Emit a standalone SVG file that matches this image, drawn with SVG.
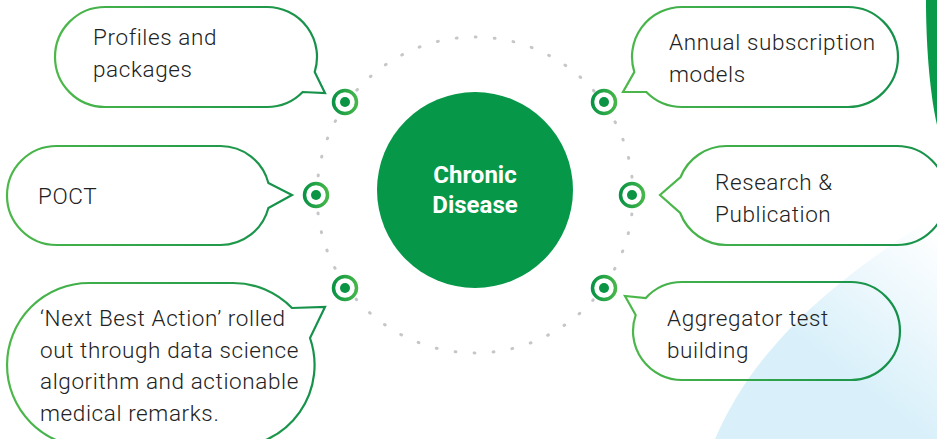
<svg xmlns="http://www.w3.org/2000/svg" width="937" height="439" viewBox="0 0 937 439">
<defs>
<linearGradient id="bs" x1="0" y1="0" x2="1" y2="0">
<stop offset="0" stop-color="#4db84a"/>
<stop offset="1" stop-color="#14904b"/>
</linearGradient>
<linearGradient id="ms" x1="0" y1="0" x2="1" y2="0">
<stop offset="0" stop-color="#0a9444"/>
<stop offset="1" stop-color="#45b649"/>
</linearGradient>
<linearGradient id="blue" gradientUnits="userSpaceOnUse" x1="915" y1="210" x2="810" y2="345">
<stop offset="0" stop-color="#ffffff"/>
<stop offset="1" stop-color="#d9f0fa"/>
</linearGradient>
<style>
.bubble{fill:none;stroke:url(#bs);stroke-width:2.2;stroke-linejoin:miter}
.txt{font-family:Roboto,"Liberation Sans",sans-serif;font-weight:300;font-size:22.5px;letter-spacing:0.6px;fill:#222222}
.ctr{font-family:Roboto,"Liberation Sans",sans-serif;font-weight:700;font-size:24px;fill:#ffffff;text-anchor:middle}
.ring{fill:#ffffff;stroke:url(#ms);stroke-width:3.5}
.dot{fill:#0a9444}
</style>
</defs>
<rect width="937" height="439" fill="#ffffff"/>
<g id="background">
<path d="M715,439 C745,370 800,300 937,215 L937,439 Z" fill="url(#blue)"/>
<path d="M926,0 C926,40 929,90 937,125 L937,0 Z" fill="#089949"/>
</g>
<g id="connectors">
<circle cx="475" cy="195" r="158" fill="none" stroke="#c6c6c6" stroke-width="3" stroke-linecap="round" stroke-dasharray="0.8 18.29"/>
</g>
<g id="center">
<circle cx="475" cy="190" r="98" fill="#069848"/>
<text class="ctr" x="475" y="183">Chronic</text>
<text class="ctr" x="475" y="213">Disease</text>
</g>
<g id="markers">
<g id="m1"><circle class="ring" cx="345" cy="102" r="11.5"/><circle class="dot" cx="345" cy="102" r="5"/></g>
<g id="m2"><circle class="ring" cx="316" cy="195" r="11.5"/><circle class="dot" cx="316" cy="195" r="5"/></g>
<g id="m3"><circle class="ring" cx="345" cy="288" r="11.5"/><circle class="dot" cx="345" cy="288" r="5"/></g>
<g id="m4"><circle class="ring" cx="604" cy="102" r="11.5"/><circle class="dot" cx="604" cy="102" r="5"/></g>
<g id="m5"><circle class="ring" cx="632" cy="195" r="11.5"/><circle class="dot" cx="632" cy="195" r="5"/></g>
<g id="m6"><circle class="ring" cx="604" cy="288" r="11.5"/><circle class="dot" cx="604" cy="288" r="5"/></g>
</g>
<g id="profiles">
<path class="bubble" d="M105,7 H267 A50,50 0 0 1 314.7,72 L325,93 L302.7,92 A50,50 0 0 1 267,107 H105 A50,50 0 0 1 105,7 Z"/>
<text class="txt" x="93" y="45">Profiles and</text>
<text class="txt" x="93" y="77">packages</text>
</g>
<g id="poct">
<path class="bubble" d="M56.5,146 H220.5 A49.5,49.5 0 0 1 268.4,183 L292,195 L268.4,208 A49.5,49.5 0 0 1 220.5,245 H56.5 A49.5,49.5 0 0 1 56.5,146 Z"/>
<text class="txt" x="38" y="204">POCT</text>
</g>
<g id="nba">
<path class="bubble" d="M89,283 H233 A82,82 0 0 1 292,308 L325,307 L310,338 A82,82 0 0 1 233,447 H89 A82,82 0 0 1 89,283 Z"/>
<text class="txt" x="40" y="326">‘Next Best Action’ rolled</text>
<text class="txt" x="40" y="358">out through data science</text>
<text class="txt" x="40" y="389">algorithm and actionable</text>
<text class="txt" x="40" y="421">medical remarks.</text>
</g>
<g id="annual">
<path class="bubble" d="M682,7 H848 A50,50 0 0 1 848,107 H682 A50,50 0 0 1 646.3,92 L623,92 L634.3,72 A50,50 0 0 1 682,7 Z"/>
<text class="txt" x="669" y="50">Annual subscription</text>
<text class="txt" x="669" y="82">models</text>
</g>
<g id="research">
<path class="bubble" d="M726.5,146 H897 A49.5,49.5 0 0 1 897,245 H726.5 A49.5,49.5 0 0 1 680.2,213 L660,195 L680.6,177 A49.5,49.5 0 0 1 726.5,146 Z"/>
<text class="txt" x="715" y="190">Research &amp;</text>
<text class="txt" x="715" y="222">Publication</text>
</g>
<g id="aggregator">
<path class="bubble" d="M682,282 H851 A49,49 0 0 1 851,380 H682 A49,49 0 0 1 635.7,315 L625,296 L645.8,298 A49,49 0 0 1 682,282 Z"/>
<text class="txt" x="667" y="326">Aggregator test</text>
<text class="txt" x="667" y="358">building</text>
</g>
</svg>
